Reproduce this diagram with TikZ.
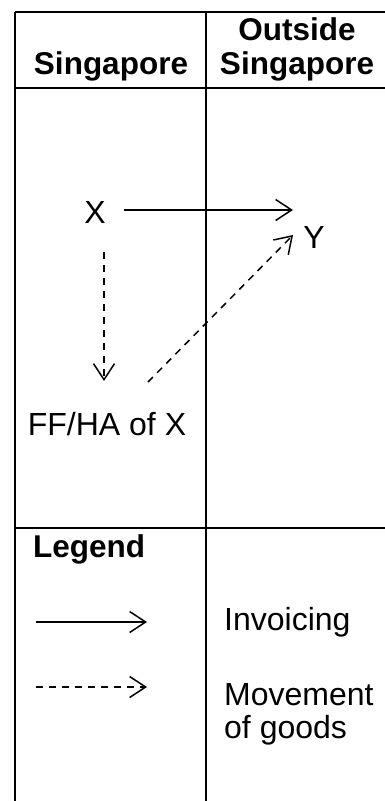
\documentclass[tikz,border=0pt]{standalone}
\usepackage{fontspec}
\setmainfont{Liberation Sans}
\usetikzlibrary{arrows.meta}
\begin{document}
\begin{tikzpicture}[x=1pt,y=-1pt,
  grid/.style={line width=2.2pt},
  lbl/.style={font=\fontsize{32}{36}\selectfont, inner sep=0pt, anchor=base},
  hdr/.style={font=\fontsize{31.5}{36}\selectfont\bfseries, inner sep=0pt, anchor=base},
  inv/.style={line width=1.5pt, -{Straight Barb[length=16pt,width=21pt,line width=1.5pt]}},
  mov/.style={inv, dash pattern=on 7pt off 6pt}
]
\useasboundingbox (0,0) rectangle (385,801);
% table lines
\coordinate (tl) at (15,12);
\coordinate (tr) at (386,12);
\coordinate (bl) at (15,802);
\coordinate (tm) at (206,12);
\coordinate (bm) at (206,802);
\draw[grid] (tl) -- (tr);
\draw[grid] (tl) -- (bl);
\draw[grid] (tm) -- (bm);
\coordinate (hl) at (15,88);
\coordinate (hr) at (386,88);
\draw[grid] (hl) -- (hr);
\coordinate (ll) at (15,528);
\coordinate (lr) at (386,528);
\draw[grid] (ll) -- (lr);
% headers
\node[hdr] (h1) at (111,74) {Singapore};
\node[hdr] (h2) at (297,40) {Outside};
\node[hdr] (h3) at (297,74) {Singapore};
% diagram
\node[lbl] (x) at (95,223) {X};
\node[lbl] (y) at (314,248) {Y};
\node[lbl] (ff) at (107,435) {FF/HA of X};
\coordinate (a1s) at (124,210);
\coordinate (a1e) at (293,210);
\draw[inv] (a1s) -- (a1e);
\coordinate (a2s) at (104,252);
\coordinate (a2e) at (104,381);
\draw[mov] (a2s) -- (a2e);
\coordinate (a3s) at (148,382);
\coordinate (a3e) at (293,235);
\draw[mov] (a3s) -- (a3e);
% legend
\node[hdr, anchor=base west] (leg) at (33,557) {Legend};
\coordinate (l1s) at (36,622);
\coordinate (l1e) at (147,622);
\draw[inv] (l1s) -- (l1e);
\coordinate (l2s) at (36,687);
\coordinate (l2e) at (147,687);
\draw[mov] (l2s) -- (l2e);
\node[lbl, anchor=base west] (t1) at (224,630) {Invoicing};
\node[lbl, anchor=base west] (t2) at (224,705) {Movement};
\node[lbl, anchor=base west] (t3) at (224,738) {of goods};
\end{tikzpicture}
\end{document}
